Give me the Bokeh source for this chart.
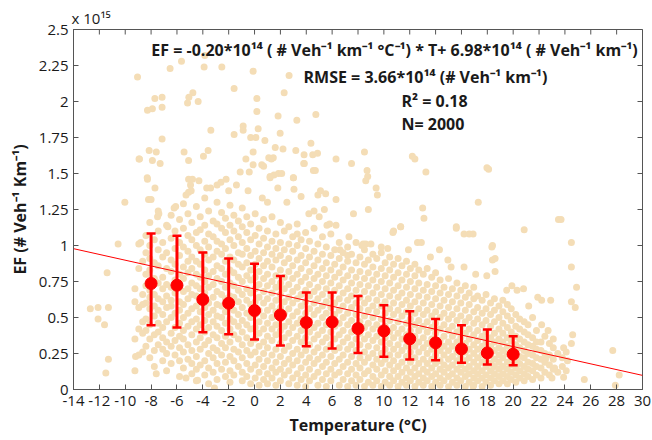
import math
from bokeh.plotting import figure
from bokeh.models import Range1d, LinearAxis, FixedTicker, CustomJSTickFormatter, ColumnDataSource
from bokeh.models import Label
from bokeh.embed import file_html
from bokeh.resources import INLINE

# ---------------- data (EF in units of 1e15 #/veh/km) ----------------
bin_temp = [-8, -6, -4, -2, 0, 2, 4, 6, 8, 10, 12, 14, 16, 18, 20]
bin_mean = [0.736, 0.724, 0.625, 0.599, 0.548, 0.518, 0.465, 0.469, 0.423, 0.407, 0.352, 0.324, 0.282, 0.254, 0.245]
bin_upper = [1.083, 1.067, 0.951, 0.910, 0.873, 0.789, 0.673, 0.673, 0.650, 0.585, 0.544, 0.490, 0.447, 0.417, 0.370]
bin_lower = [0.447, 0.430, 0.398, 0.384, 0.347, 0.305, 0.301, 0.285, 0.254, 0.227, 0.208, 0.203, 0.185, 0.173, 0.169]

fit_slope = -0.020      # -0.20e14 per degC
fit_intercept = 0.698   # 6.98e14
fit_t = [-14, 30]

x_ticks = list(range(-14, 31, 2))
y_ticks = [0, 0.25, 0.5, 0.75, 1, 1.25, 1.5, 1.75, 2, 2.25, 2.5]

# scattered measurements, dense part: (temperature, [EF values])
cloud_below_0 = [
    (-9.25, [0.13, 0.35, 0.61, 0.70]),
    (-8.95, [0.24, 0.42, 0.57, 0.84, 1.01]),
    (-8.65, [0.26, 0.39, 0.47, 0.59, 0.66, 0.89]),
    (-8.4, [0.30, 0.41, 0.49, 0.60, 0.72, 0.80, 0.95, 1.07]),
    (-8.1, [0.22, 0.35, 0.45, 0.56, 0.64, 0.69, 0.83, 0.91, 1.00, 1.16]),
    (-7.75, [0.16, 0.27, 0.38, 0.51, 0.58, 0.66, 0.77, 0.88, 1.04]),
    (-7.45, [0.31, 0.40, 0.46, 0.55, 0.63, 0.74, 0.86, 0.97, 1.10, 1.24]),
    (-7.1, [0.20, 0.28, 0.36, 0.43, 0.52, 0.61, 0.70, 0.78, 0.92, 1.02]),
    (-6.8, [0.13, 0.25, 0.33, 0.47, 0.57, 0.65, 0.73, 0.84, 0.95, 1.14]),
    (-6.45, [0.18, 0.30, 0.39, 0.50, 0.58, 0.62, 0.71, 0.82, 0.90, 1.05, 1.21]),
    (-6.15, [0.24, 0.34, 0.43, 0.53, 0.67, 0.76, 0.87, 0.98, 1.10]),
    (-5.8, [0.09, 0.20, 0.29, 0.37, 0.46, 0.55, 0.61, 0.72, 0.80, 0.93, 1.02, 1.18]),
    (-5.5, [0.15, 0.26, 0.35, 0.41, 0.50, 0.59, 0.68, 0.77, 0.85, 0.99, 1.12, 1.29]),
    (-5.15, [0.21, 0.31, 0.44, 0.53, 0.63, 0.70, 0.81, 0.89, 0.96, 1.07, 1.22]),
    (-4.85, [0.11, 0.18, 0.27, 0.38, 0.47, 0.56, 0.66, 0.74, 0.84, 0.92, 1.04, 1.16]),
    (-4.5, [0.06, 0.14, 0.23, 0.33, 0.42, 0.49, 0.58, 0.65, 0.72, 0.80, 0.89, 1.00, 1.09, 1.27]),
    (-4.2, [0.17, 0.28, 0.36, 0.45, 0.54, 0.62, 0.70, 0.78, 0.87, 0.97, 1.11, 1.20]),
    (-3.85, [0.10, 0.20, 0.31, 0.40, 0.48, 0.57, 0.67, 0.75, 0.83, 0.94, 1.03, 1.14, 1.33]),
    (-3.55, [0.04, 0.15, 0.25, 0.34, 0.43, 0.52, 0.60, 0.71, 0.79, 0.90, 0.99, 1.08, 1.24]),
    (-3.2, [0.12, 0.22, 0.29, 0.38, 0.47, 0.55, 0.64, 0.73, 0.82, 0.92, 1.06, 1.17]),
    (-2.9, [0.07, 0.18, 0.27, 0.36, 0.44, 0.51, 0.59, 0.68, 0.77, 0.86, 0.96, 1.03, 1.15, 1.30]),
    (-2.55, [0.14, 0.24, 0.32, 0.41, 0.50, 0.58, 0.66, 0.75, 0.84, 0.94, 1.01, 1.12, 1.23]),
    (-2.25, [0.09, 0.19, 0.29, 0.37, 0.46, 0.54, 0.63, 0.71, 0.80, 0.89, 0.98, 1.09, 1.19]),
    (-1.9, [0.05, 0.13, 0.23, 0.33, 0.42, 0.49, 0.57, 0.65, 0.74, 0.83, 0.92, 1.04, 1.14, 1.28]),
    (-1.6, [0.10, 0.20, 0.28, 0.38, 0.47, 0.55, 0.64, 0.72, 0.81, 0.90, 1.00, 1.10, 1.21]),
    (-1.25, [0.16, 0.26, 0.35, 0.44, 0.52, 0.61, 0.69, 0.78, 0.87, 0.95, 1.06, 1.17]),
    (-0.95, [0.06, 0.12, 0.22, 0.31, 0.40, 0.48, 0.57, 0.66, 0.75, 0.85, 0.94, 1.02, 1.13, 1.26]),
    (-0.6, [0.09, 0.18, 0.27, 0.36, 0.45, 0.53, 0.62, 0.70, 0.79, 0.88, 0.98, 1.09, 1.20]),
    (-0.3, [0.04, 0.14, 0.24, 0.32, 0.42, 0.50, 0.59, 0.67, 0.76, 0.83, 0.93, 1.04, 1.15]),
]
cloud_0_to_10 = [
    (0.05, [0.08, 0.17, 0.26, 0.35, 0.43, 0.52, 0.61, 0.70, 0.78, 0.87, 0.96, 1.07, 1.22]),
    (0.35, [0.03, 0.12, 0.21, 0.30, 0.39, 0.47, 0.55, 0.64, 0.73, 0.82, 0.91, 1.01, 1.12]),
    (0.7, [0.07, 0.16, 0.25, 0.33, 0.42, 0.51, 0.60, 0.68, 0.77, 0.86, 0.95, 1.05, 1.18]),
    (1.0, [0.04, 0.11, 0.20, 0.29, 0.37, 0.46, 0.55, 0.63, 0.72, 0.80, 0.89, 0.99, 1.10]),
    (1.35, [0.08, 0.15, 0.24, 0.34, 0.42, 0.50, 0.58, 0.67, 0.75, 0.85, 0.94, 1.03, 1.20]),
    (1.65, [0.03, 0.12, 0.19, 0.28, 0.38, 0.45, 0.54, 0.62, 0.71, 0.79, 0.90, 0.98, 1.08]),
    (2.0, [0.06, 0.14, 0.23, 0.32, 0.41, 0.49, 0.57, 0.66, 0.74, 0.83, 0.93, 1.02, 1.16]),
    (2.3, [0.10, 0.18, 0.27, 0.36, 0.44, 0.53, 0.61, 0.70, 0.78, 0.88, 0.97, 1.10]),
    (2.65, [0.04, 0.13, 0.21, 0.30, 0.39, 0.47, 0.56, 0.64, 0.73, 0.82, 0.91, 1.01, 1.13]),
    (2.95, [0.08, 0.17, 0.25, 0.34, 0.43, 0.51, 0.60, 0.68, 0.77, 0.86, 0.96, 1.06]),
    (3.3, [0.03, 0.11, 0.20, 0.28, 0.37, 0.46, 0.54, 0.63, 0.71, 0.80, 0.90, 1.00, 1.15]),
    (3.6, [0.07, 0.15, 0.24, 0.33, 0.41, 0.49, 0.58, 0.66, 0.75, 0.84, 0.93, 1.04]),
    (3.95, [0.02, 0.10, 0.19, 0.27, 0.36, 0.44, 0.53, 0.61, 0.69, 0.78, 0.88, 0.98, 1.09]),
    (4.25, [0.06, 0.14, 0.22, 0.31, 0.40, 0.48, 0.56, 0.65, 0.73, 0.82, 0.92, 1.03]),
    (4.6, [0.09, 0.18, 0.26, 0.35, 0.43, 0.52, 0.60, 0.68, 0.77, 0.86, 0.96, 1.12]),
    (4.9, [0.03, 0.12, 0.21, 0.29, 0.38, 0.46, 0.55, 0.63, 0.71, 0.80, 0.90, 1.01]),
    (5.25, [0.07, 0.16, 0.24, 0.33, 0.41, 0.50, 0.58, 0.66, 0.75, 0.84, 0.94, 1.06]),
    (5.55, [0.02, 0.11, 0.19, 0.28, 0.36, 0.45, 0.53, 0.61, 0.70, 0.79, 0.88, 0.99]),
    (5.9, [0.06, 0.14, 0.23, 0.31, 0.40, 0.48, 0.57, 0.65, 0.74, 0.83, 0.93, 1.08]),
    (6.2, [0.10, 0.18, 0.27, 0.35, 0.44, 0.52, 0.60, 0.69, 0.78, 0.87, 0.97]),
    (6.55, [0.03, 0.12, 0.21, 0.29, 0.38, 0.46, 0.55, 0.63, 0.72, 0.81, 0.91, 1.02]),
    (6.85, [0.07, 0.16, 0.24, 0.33, 0.41, 0.50, 0.58, 0.67, 0.76, 0.85, 0.95]),
    (7.2, [0.02, 0.11, 0.19, 0.28, 0.36, 0.45, 0.53, 0.62, 0.70, 0.79, 0.89, 0.99]),
    (7.5, [0.06, 0.14, 0.23, 0.31, 0.40, 0.48, 0.57, 0.65, 0.74, 0.83, 0.94]),
    (7.85, [0.03, 0.10, 0.18, 0.27, 0.35, 0.44, 0.52, 0.60, 0.69, 0.78, 0.88, 1.02]),
    (8.15, [0.07, 0.15, 0.22, 0.31, 0.39, 0.47, 0.56, 0.64, 0.73, 0.82, 0.92]),
    (8.5, [0.02, 0.11, 0.19, 0.26, 0.35, 0.43, 0.51, 0.60, 0.68, 0.77, 0.87, 0.97]),
    (8.8, [0.05, 0.13, 0.22, 0.30, 0.38, 0.46, 0.55, 0.63, 0.72, 0.81, 0.90]),
    (9.15, [0.03, 0.09, 0.17, 0.25, 0.34, 0.42, 0.50, 0.58, 0.67, 0.76, 0.85, 0.94]),
    (9.45, [0.06, 0.14, 0.21, 0.29, 0.37, 0.45, 0.54, 0.62, 0.71, 0.80, 0.91]),
    (9.8, [0.02, 0.10, 0.18, 0.25, 0.33, 0.41, 0.49, 0.58, 0.66, 0.75, 0.84, 0.95]),
]
cloud_10_to_20 = [
    (10.1, [0.05, 0.13, 0.21, 0.28, 0.36, 0.44, 0.53, 0.61, 0.70, 0.79, 0.88]),
    (10.45, [0.03, 0.09, 0.17, 0.24, 0.32, 0.40, 0.48, 0.56, 0.65, 0.74, 0.83, 0.92]),
    (10.75, [0.06, 0.13, 0.20, 0.28, 0.36, 0.43, 0.52, 0.60, 0.69, 0.78, 0.87]),
    (11.1, [0.02, 0.09, 0.16, 0.24, 0.31, 0.39, 0.47, 0.55, 0.64, 0.72, 0.81, 0.91]),
    (11.4, [0.05, 0.12, 0.19, 0.27, 0.35, 0.42, 0.51, 0.59, 0.67, 0.76, 0.86]),
    (11.75, [0.03, 0.08, 0.15, 0.23, 0.30, 0.38, 0.46, 0.54, 0.62, 0.71, 0.80, 0.89]),
    (12.05, [0.06, 0.12, 0.19, 0.26, 0.34, 0.41, 0.49, 0.58, 0.66, 0.75, 0.84]),
    (12.4, [0.02, 0.09, 0.15, 0.22, 0.30, 0.37, 0.45, 0.53, 0.61, 0.70, 0.79, 0.87]),
    (12.7, [0.05, 0.11, 0.18, 0.26, 0.33, 0.41, 0.48, 0.56, 0.65, 0.74, 0.83]),
    (13.05, [0.03, 0.08, 0.14, 0.21, 0.29, 0.36, 0.44, 0.52, 0.60, 0.69, 0.80]),
    (13.35, [0.06, 0.12, 0.18, 0.25, 0.32, 0.40, 0.47, 0.55, 0.64, 0.73, 0.84]),
    (13.7, [0.02, 0.09, 0.15, 0.21, 0.28, 0.35, 0.43, 0.51, 0.59, 0.68, 0.78]),
    (14.0, [0.05, 0.11, 0.18, 0.24, 0.31, 0.39, 0.46, 0.54, 0.63, 0.72, 0.81]),
    (14.35, [0.03, 0.08, 0.14, 0.20, 0.27, 0.34, 0.42, 0.50, 0.58, 0.67, 0.76]),
    (14.65, [0.06, 0.12, 0.17, 0.24, 0.30, 0.37, 0.45, 0.53, 0.62, 0.71]),
    (15.0, [0.02, 0.09, 0.15, 0.21, 0.27, 0.33, 0.41, 0.49, 0.57, 0.66, 0.77]),
    (15.3, [0.05, 0.11, 0.17, 0.23, 0.30, 0.37, 0.44, 0.52, 0.61, 0.70]),
    (15.65, [0.03, 0.08, 0.14, 0.20, 0.26, 0.33, 0.40, 0.48, 0.56, 0.65, 0.74]),
    (15.95, [0.06, 0.12, 0.17, 0.23, 0.29, 0.36, 0.43, 0.51, 0.60, 0.69]),
    (16.3, [0.02, 0.09, 0.14, 0.20, 0.26, 0.32, 0.39, 0.47, 0.55, 0.64, 0.72]),
    (16.6, [0.05, 0.11, 0.16, 0.22, 0.28, 0.35, 0.42, 0.50, 0.59, 0.67]),
    (16.95, [0.03, 0.08, 0.13, 0.19, 0.25, 0.31, 0.38, 0.46, 0.54, 0.63, 0.71]),
    (17.25, [0.06, 0.11, 0.16, 0.22, 0.28, 0.34, 0.41, 0.49, 0.57, 0.65]),
    (17.6, [0.02, 0.08, 0.13, 0.19, 0.24, 0.30, 0.37, 0.45, 0.53, 0.62]),
    (17.9, [0.05, 0.10, 0.16, 0.21, 0.27, 0.33, 0.40, 0.48, 0.56, 0.66]),
    (18.25, [0.03, 0.08, 0.13, 0.18, 0.24, 0.30, 0.36, 0.44, 0.52, 0.60]),
    (18.55, [0.06, 0.11, 0.16, 0.21, 0.27, 0.33, 0.39, 0.47, 0.55, 0.63]),
    (18.9, [0.04, 0.09, 0.14, 0.19, 0.24, 0.29, 0.35, 0.42, 0.50, 0.58]),
    (19.2, [0.06, 0.11, 0.16, 0.22, 0.27, 0.33, 0.39, 0.46, 0.54, 0.62]),
    (19.55, [0.04, 0.09, 0.14, 0.19, 0.25, 0.30, 0.36, 0.43, 0.51, 0.59]),
    (19.85, [0.07, 0.12, 0.17, 0.22, 0.28, 0.34, 0.40, 0.48, 0.56]),
]
cloud_above_20 = [
    (20.2, [0.05, 0.10, 0.15, 0.20, 0.26, 0.31, 0.37, 0.44, 0.52]),
    (20.5, [0.08, 0.13, 0.18, 0.23, 0.29, 0.35, 0.42, 0.49]),
    (20.85, [0.06, 0.11, 0.16, 0.22, 0.27, 0.33, 0.40, 0.47]),
    (21.15, [0.09, 0.14, 0.19, 0.25, 0.31, 0.38, 0.45]),
    (21.5, [0.07, 0.13, 0.18, 0.24, 0.30, 0.36]),
    (21.8, [0.10, 0.16, 0.22, 0.28, 0.41]),
    (22.15, [0.08, 0.15, 0.21, 0.27, 0.33]),
    (22.45, [0.12, 0.19, 0.25, 0.37]),
    (22.8, [0.10, 0.17, 0.24, 0.32]),
    (23.1, [0.14, 0.21, 0.35]),
    (23.45, [0.12, 0.25]),
    (23.8, [0.16, 0.22]),
    (24.1, [0.13, 0.26]),
]
# isolated points read individually: (temperature, EF)
sparse_points = [
    (-9.05, 2.17), (-6.53, 2.23), (-5.65, 2.28), (-3.85, 2.32), (-3.9, 2.24), (-2.53, 2.24),
    (-0.11, 2.21), (2.67, 2.18), (-1.58, 2.09), (-4.77, 2.06), (-5.08, 2.03), (-4.36, 2.00),
    (-5.18, 1.99), (-7.71, 2.02), (-7.15, 2.03), (-8.28, 1.94), (-7.9, 1.95), (-7.15, 1.96),
    (0.18, 2.02), (0.18, 1.93), (2.29, 2.06), (1.82, 1.90), (3.27, 1.87), (4.74, 1.91),
    (-7.15, 1.74), (-3.38, 1.80), (-0.88, 1.83), (-0.88, 1.80), (-0.3, 1.75), (0.1, 1.75),
    (0.28, 1.81), (1.98, 1.78), (0.8, 1.73), (1.6, 1.68), (2.2, 1.67), (4.36, 1.71),
    (-8.93, 1.60), (-8.15, 1.66), (-7.6, 1.65), (-7.9, 1.59), (-7.3, 1.57), (-5.45, 1.65),
    (-5.1, 1.59), (-3.95, 1.62), (-3.59, 1.66), (-1.58, 1.77), (-0.67, 1.60), (-0.11, 1.65),
    (1.1, 1.61), (1.45, 1.61), (-0.11, 1.56), (0.56, 1.56), (3.19, 1.66), (3.83, 1.63),
    (4.87, 1.64), (3.85, 1.57), (4.55, 1.52), (-1.11, 1.51), (-0.41, 1.51), (1.2, 1.48),
    (1.5, 1.49), (1.85, 1.50), (3.01, 1.47), (-8.28, 1.46), (-7.7, 1.40), (-8.0, 1.32),
    (-10.03, 1.30), (-6.22, 1.26), (-5.1, 1.46), (-4.8, 1.46), (-5.1, 1.37), (-4.9, 1.38),
    (-5.3, 1.35), (-4.3, 1.45), (-3.4, 1.40), (-2.9, 1.42), (-2.6, 1.44), (-2.2, 1.46),
    (4.5, 1.63), (6.3, 1.60), (8.5, 1.65), (12.2, 1.62), (12.4, 1.60), (13.25, 1.51),
    (7.5, 1.57), (8.7, 1.52), (8.75, 1.48), (8.6, 1.45), (9.4, 1.40), (9.5, 1.35),
    (1.3, 1.60), (3.8, 1.57), (4.7, 1.52), (0.7, 1.55), (2.1, 1.50), (1.2, 1.47),
    (3.0, 1.47), (1.8, 1.40), (3.05, 1.39), (3.6, 1.34), (4.9, 1.35), (5.1, 1.38),
    (5.5, 1.36), (6.3, 1.32), (7.65, 1.22), (8.8, 1.25), (13.0, 1.26), (13.1, 1.19),
    (10.75, 1.10), (11.3, 1.13), (15.6, 1.12), (4.2, 1.22), (4.6, 1.24), (5.0, 1.20),
    (5.4, 1.25), (3.3, 1.08), (5.6, 1.14), (6.3, 1.14), (7.3, 1.06), (8.3, 1.00),
    (8.6, 1.01), (6.6, 0.97), (7.2, 0.93), (-0.5, 1.38), (0.6, 1.33), (-1.4, 1.42),
    (17.97, 1.54), (18.1, 1.53), (17.3, 1.30), (16.6, 1.08), (16.2, 1.08), (16.9, 1.08),
    (20.85, 1.11), (23.7, 1.18), (18.35, 0.99), (24.5, 1.02), (18.4, 0.90), (18.6, 0.91),
    (24.5, 0.85), (16.2, 0.85), (24.9, 0.71), (24.5, 0.61), (24.8, 0.57), (24.6, 0.38),
    (24.5, 0.32), (27.7, 0.27), (28.2, 0.10), (27.9, 0.03), (25.5, 0.07), (23.9, 0.085),
    (23.1, 0.29), (23.9, 0.29), (22.7, 0.41), (22.9, 0.62), (22.2, 0.62), (21.9, 0.64),
    (20.8, 0.70), (19.5, 0.69), (20.3, 0.69), (18.4, 1.00), (18.6, 0.82), (17.96, 0.79),
    (14.3, 0.97), (14.95, 0.90), (15.6, 1.13), (11.3, 1.13), (10.7, 1.09), (9.0, 1.01),
    (8.4, 1.01), (9.8, 0.99), (12.6, 1.02), (12.9, 1.02), (5.8, 1.15), (23.5, 1.18),
    (-10.55, 1.01), (-11.4, 0.81), (-12.7, 0.56), (-12.1, 0.57), (-11.3, 0.57), (-12.1, 0.49),
    (-11.6, 0.45), (-11.3, 0.21), (-11.5, 0.115), (-9.2, 0.23), (-8.8, 1.02), (-8.9, 1.60),
    (-8.3, 1.47), (-8.2, 1.32), (-7.5, 1.20), (-7.4, 1.22), (-6.7, 1.13), (-6.1, 1.27),
    (-4.95, 1.42), (-4.4, 0.065), (-3.1, 0.01), (-5.3, 0.08), (-7.6, 0.11), (16.9, 0.02),
    (22.5, 0.21), (23.2, 0.15), (21.8, 0.33), (22.2, 0.45), (21.5, 0.50), (23.0, 0.08),
    (24.2, 0.20), (11.9, 0.97), (13.6, 0.92), (10.3, 0.98), (15.2, 0.85), (17.1, 0.80),
    (19.9, 0.72), (21.2, 0.58), (2.5, 1.30), (1.0, 1.30), (-2.0, 1.38), (-3.7, 1.40),
]

scatter_t, scatter_ef = [], []
for group in (cloud_below_0, cloud_0_to_10, cloud_10_to_20, cloud_above_20):
    for t, efs in group:
        for e in efs:
            scatter_t.append(t)
            scatter_ef.append(e)
for t, e in sparse_points:
    scatter_t.append(t)
    scatter_ef.append(e)

fit_ef = [fit_intercept + fit_slope * t for t in fit_t]

# ---------------- figure ----------------
FONT = "Open Sans"
AX = "#555555"
TXT = "#1a1a1a"
RED = "#FF0000"

p = figure(width=652, height=440, output_backend="svg", toolbar_location=None,
           x_range=Range1d(-14, 30), y_range=Range1d(0, 2.5),
           min_border_left=73, min_border_right=10, min_border_top=29, min_border_bottom=51,
           x_axis_location=None, y_axis_location=None)
p.grid.visible = False
p.outline_line_color = AX
p.outline_line_width = 1
p.background_fill_color = "white"
p.border_fill_color = "white"

p.title.text = "x 10¹⁵"
p.title.text_font = FONT
p.title.text_font_size = "15px"
p.title.text_font_style = "normal"
p.title.text_color = TXT
p.title.align = "left"
p.title.offset = -2
p.title.standoff = 4

fmt = CustomJSTickFormatter(code="return tick.toString();")

def style_axis(ax):
    ax.axis_line_color = AX
    ax.major_tick_line_color = AX
    ax.major_tick_in = 5
    ax.major_tick_out = 0
    ax.minor_tick_line_color = None
    ax.major_label_text_font = FONT
    ax.major_label_text_color = TXT
    ax.major_label_text_font_size = "15px"
    ax.formatter = fmt
    ax.axis_label_text_font = FONT
    ax.axis_label_text_font_style = "bold"
    ax.axis_label_text_font_size = "16px"
    ax.axis_label_text_color = TXT

xb = LinearAxis(ticker=FixedTicker(ticks=x_ticks), axis_label="Temperature (°C)")
style_axis(xb)
xb.major_label_standoff = 6
xb.axis_label_standoff = 5
yl = LinearAxis(ticker=FixedTicker(ticks=y_ticks), axis_label="EF (# Veh⁻¹ Km⁻¹)")
style_axis(yl)
yl.major_label_standoff = 5
yl.axis_label_standoff = 5
p.add_layout(xb, "below")
p.add_layout(yl, "left")

p.scatter(scatter_t, scatter_ef, size=7, fill_color="#F4DDB6", line_color=None)

# inward ticks on the top and right frame edges (half of each dash is clipped by the frame)
p.scatter(x_ticks, [y_ticks[-1]] * len(x_ticks), marker="dash", angle=math.pi / 2, size=10,
          line_color=AX, line_width=1)
p.scatter([x_ticks[-1]] * len(y_ticks), y_ticks, marker="dash", size=10, line_color=AX, line_width=1)

p.line(fit_t, fit_ef, line_color=RED, line_width=1)

src = ColumnDataSource(dict(t=bin_temp, m=bin_mean, lo=bin_lower, hi=bin_upper))
p.segment(x0="t", y0="lo", x1="t", y1="hi", source=src, line_color=RED, line_width=3)
p.scatter("t", "lo", source=src, marker="dash", size=9, line_color=RED, line_width=2.5)
p.scatter("t", "hi", source=src, marker="dash", size=9, line_color=RED, line_width=2.5)
p.scatter("t", "m", source=src, size=12, fill_color=RED, line_color=RED)

def lab(text, x, y, align="left"):
    p.add_layout(Label(x=x, y=y, x_units="screen", y_units="screen", text=text,
                       text_font=FONT, text_font_size="16px", text_font_style="bold",
                       text_color=TXT, text_align=align, text_baseline="middle"))

lab("EF = -0.20*10¹⁴ ( # Veh⁻¹ km⁻¹ °C⁻¹) * T+ 6.98*10¹⁴ ( # Veh⁻¹ km⁻¹)", 321, 340, "center")
lab("RMSE = 3.66*10¹⁴  (# Veh⁻¹ km⁻¹)", 354, 313, "center")
lab("R² = 0.18", 328, 289)
lab("N= 2000", 328, 266)

open("out.html", "w").write(file_html(p, INLINE))
